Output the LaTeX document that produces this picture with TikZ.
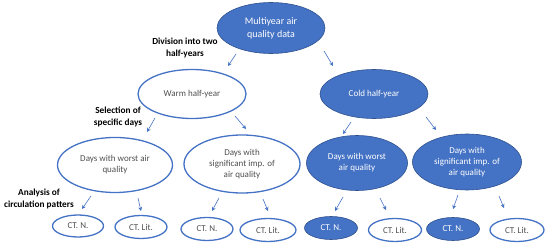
\documentclass[tikz,border=0pt]{standalone}
\usepackage{fontspec}
\setmainfont{Carlito}
\usetikzlibrary{shapes.geometric,arrows.meta}
\definecolor{obl}{HTML}{4472C4}
\definecolor{obd}{HTML}{2F528F}
\definecolor{txg}{HTML}{505050}
\tikzset{
  base/.style={ellipse, inner sep=0pt, align=center, font=\fontsize{9}{11}\selectfont},
  wbox/.style={base, draw=obl, line width=1.3pt, fill=white, text=txg},
  dbox/.style={base, draw=obd, line width=0.6pt, fill=obl, text=white},
  lab/.style={align=center, font=\bfseries\fontsize{9.3}{11.5}\selectfont, text=black},
  arr/.style={draw=obl, line width=0.6pt, -{Stealth[length=4pt,width=4pt]}}
}
\begin{document}
\begin{tikzpicture}[x=1pt,y=-1pt]
\useasboundingbox (0,0) rectangle (550,251);
% top
\node[dbox, minimum width=108, minimum height=51, font=\fontsize{10}{13}\selectfont] (top) at (271,28) {Multiyear air\\quality data};
% level 2
\node[wbox, minimum width=108, minimum height=49] (warm) at (192,94) {Warm half-year};
\node[dbox, minimum width=108, minimum height=49] (cold) at (374,94) {Cold half-year};
% level 3
\node[wbox, minimum width=115, minimum height=55] (ww) at (115,165) {Days with worst air\\quality};
\node[wbox, minimum width=116, minimum height=58] (ws) at (242,164) {Days with\\significant imp. of\\air quality};
\node[dbox, minimum width=101, minimum height=55] (cw) at (357,163) {Days with worst\\air quality};
\node[dbox, minimum width=109, minimum height=56] (cs) at (467,162) {Days with\\significant imp. of\\air quality};
% level 4
\node[wbox, minimum width=51, minimum height=22] (l1) at (78,226) {CT. N.};
\node[wbox, minimum width=52, minimum height=23] (l2) at (141,227) {CT. Lit.};
\node[wbox, minimum width=52, minimum height=23] (l3) at (207,229) {CT. N.};
\node[wbox, minimum width=56, minimum height=23] (l4) at (268,230) {CT. Lit.};
\node[dbox, minimum width=53, minimum height=23] (l5) at (331,228) {CT. N.};
\node[wbox, minimum width=53, minimum height=23] (l6) at (395,230) {CT. Lit.};
\node[dbox, minimum width=53, minimum height=23] (l7) at (453,229) {CT. N.};
\node[wbox, minimum width=54, minimum height=23] (l8) at (517,230) {CT. Lit.};
% labels
\node[lab] (t1) at (185,48) {Division into two\\half-years};
\node[lab] (t2) at (118,117) {Selection of\\specific days};
\node[lab] (t3) at (39,199) {Analysis of\\circulation patters};
% arrow end points
\coordinate (a1s) at (236,54); \coordinate (a1e) at (228,66);
\coordinate (a2s) at (324,51); \coordinate (a2e) at (333,66);
\coordinate (b1s) at (155,118); \coordinate (b1e) at (147,132);
\coordinate (b2s) at (235,116); \coordinate (b2e) at (246,129);
\coordinate (b3s) at (351,122); \coordinate (b3e) at (343,134);
\coordinate (b4s) at (426,117); \coordinate (b4e) at (436,130);
\coordinate (c1s) at (91,196); \coordinate (c1e) at (82,209);
\coordinate (c2s) at (138,198); \coordinate (c2e) at (141,211);
\coordinate (c3s) at (219,198); \coordinate (c3e) at (212,211);
\coordinate (c4s) at (263,199); \coordinate (c4e) at (268,211);
\coordinate (c5s) at (343,197); \coordinate (c5e) at (335,211);
\coordinate (c6s) at (380,198); \coordinate (c6e) at (386,210);
\coordinate (c7s) at (458,195); \coordinate (c7e) at (453,209);
\coordinate (c8s) at (499,196); \coordinate (c8e) at (504,208);
\foreach \p in {a1,a2,b1,b2,b3,b4,c1,c2,c3,c4,c5,c6,c7,c8}
  \draw[arr] (\p s) -- (\p e);
\end{tikzpicture}
\end{document}
